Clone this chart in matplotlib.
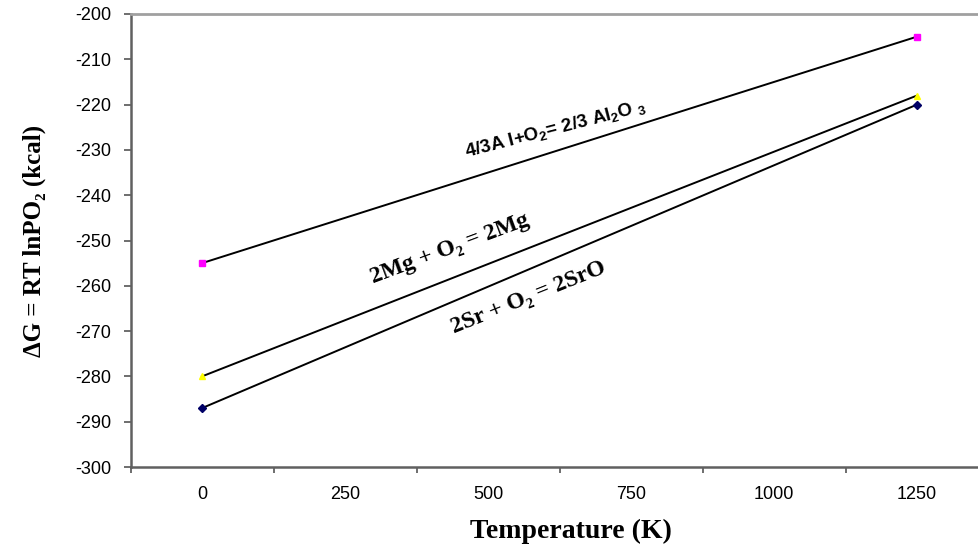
import matplotlib
matplotlib.use("Agg")
import matplotlib.pyplot as plt

# temperatures (K) and free energies (kcal)
temps = [0, 1250]
dg_al = [-255, -205]
dg_mg = [-280, -218]
dg_sr = [-287, -220]

xtick_labels = [0, 250, 500, 750, 1000, 1250]
yticks = list(range(-300, -199, 10))

serif = ['Liberation Serif', 'DejaVu Serif']
sans = ['Liberation Sans', 'DejaVu Sans']

plt.rcParams['mathtext.fontset'] = 'custom'
plt.rcParams['mathtext.bf'] = 'Liberation Sans:bold'
plt.rcParams['mathtext.rm'] = 'Liberation Sans'

fig = plt.figure(figsize=(9.79, 5.51), dpi=100)
ax = fig.add_axes([130.5 / 979, 84 / 551, 858 / 979, 453 / 551])

ax.plot(temps, dg_al, color='black', lw=1.4, marker='s', ms=5,
        mfc='#ff00ff', mec='#ff00ff')
ax.plot(temps, dg_mg, color='black', lw=1.4, marker='^', ms=5,
        mfc='#ffff00', mec='#ffff00')
ax.plot(temps, dg_sr, color='black', lw=1.4, marker='D', ms=4,
        mfc='#000066', mec='#000066')

ax.set_xlim(-125, 1375)
ax.set_ylim(-300, -200)

# category style x axis: ticks between labels
ax.set_xticks([-125 + 250 * i for i in range(7)])
ax.set_xticklabels([])
ax.set_xticks(xtick_labels, minor=True)
ax.set_xticklabels([str(v) for v in xtick_labels], minor=True,
                   family=sans, fontsize=13)
ax.tick_params(axis='x', which='minor', length=0, pad=14)
ax.tick_params(axis='x', which='major', length=4, width=1.2,
               color='#555555', direction='out')

ax.set_yticks(yticks)
ax.set_yticklabels([str(v) for v in yticks], family=sans, fontsize=13)
ax.tick_params(axis='y', length=5, width=1.2, color='#555555',
               direction='out', pad=9)

ax.spines['right'].set_visible(False)
ax.spines['top'].set_color('#a0a0a0')
ax.spines['top'].set_linewidth(2)
ax.spines['left'].set_color('#606060')
ax.spines['left'].set_linewidth(1.8)
ax.spines['bottom'].set_color('#606060')
ax.spines['bottom'].set_linewidth(1.8)

ax.set_xlabel('Temperature (K)', family=serif, fontweight='bold',
              fontsize=20, va='top')
ax.xaxis.set_label_coords(0.513, -0.115)
ax.set_ylabel('\u0394G = RT lnPO\u2082 (kcal)', family=serif,
              fontweight='bold', fontsize=18)
ax.yaxis.set_label_coords(-0.098, 0.5)

# reaction labels along the lines
ax.text(463.0, -231.8,
        r'4/3A l+O$_\mathbf{2}$= 2/3 Al$_\mathbf{2}$O $_\mathbf{3}$',
        family=sans, fontweight='bold', fontsize=13.5, rotation=14.5,
        rotation_mode='anchor', ha='left', va='baseline')
ax.text(299.0, -259.5, '2Mg + O\u2082 = 2Mg', family=serif,
        fontweight='bold', fontsize=17, rotation=20.5,
        rotation_mode='anchor', ha='left', va='baseline')
ax.text(440.0, -270.5, '2Sr + O\u2082 = 2SrO', family=serif,
        fontweight='bold', fontsize=17, rotation=21.8,
        rotation_mode='anchor', ha='left', va='baseline')

fig.savefig('out.png', dpi=100)
